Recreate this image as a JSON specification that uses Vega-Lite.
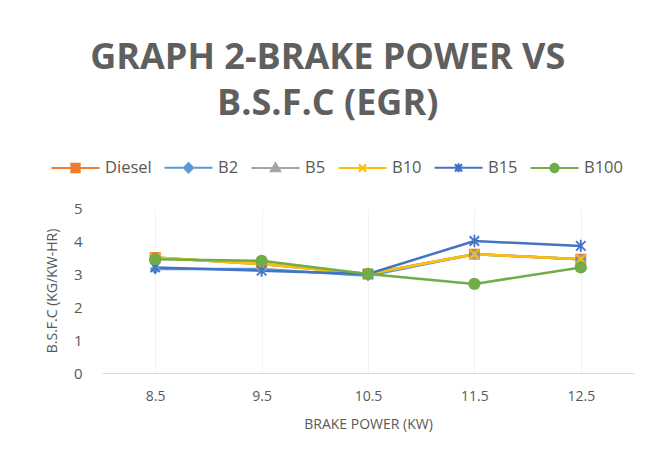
{
  "$schema": "https://vega.github.io/schema/vega-lite/v6.json",
  "width": 532,
  "height": 165,
  "padding": {"left": 45, "top": 40, "right": 19, "bottom": 10},
  "background": "white",
  "title": {
    "text": ["GRAPH 2-BRAKE POWER VS", "B.S.F.C (EGR)"],
    "font": "Open Sans",
    "fontSize": 36,
    "fontWeight": "bold",
    "color": "#5f5f5f",
    "lineHeight": 46,
    "anchor": "middle",
    "frame": "bounds",
    "dx": -12,
    "offset": 19
  },
  "config": {
    "view": {"stroke": null},
    "font": "Open Sans",
    "axis": {"labelColor": "#595959", "titleColor": "#595959", "labelFont": "Open Sans", "titleFont": "Open Sans", "titleFontWeight": "normal"}
  },
  "data": {
    "values": [
      {"bp": "8.5", "series": "Diesel", "bsfc": 3.5},
      {"bp": "9.5", "series": "Diesel", "bsfc": 3.3},
      {"bp": "10.5", "series": "Diesel", "bsfc": 3.0},
      {"bp": "11.5", "series": "Diesel", "bsfc": 3.6},
      {"bp": "12.5", "series": "Diesel", "bsfc": 3.45},
      {"bp": "8.5", "series": "B2", "bsfc": 3.15},
      {"bp": "9.5", "series": "B2", "bsfc": 3.15},
      {"bp": "10.5", "series": "B2", "bsfc": 2.95},
      {"bp": "11.5", "series": "B2", "bsfc": 3.6},
      {"bp": "12.5", "series": "B2", "bsfc": 3.45},
      {"bp": "8.5", "series": "B5", "bsfc": 3.5},
      {"bp": "9.5", "series": "B5", "bsfc": 3.3},
      {"bp": "10.5", "series": "B5", "bsfc": 3.0},
      {"bp": "11.5", "series": "B5", "bsfc": 3.6},
      {"bp": "12.5", "series": "B5", "bsfc": 3.45},
      {"bp": "8.5", "series": "B10", "bsfc": 3.5},
      {"bp": "9.5", "series": "B10", "bsfc": 3.3},
      {"bp": "10.5", "series": "B10", "bsfc": 3.0},
      {"bp": "11.5", "series": "B10", "bsfc": 3.6},
      {"bp": "12.5", "series": "B10", "bsfc": 3.45},
      {"bp": "8.5", "series": "B15", "bsfc": 3.2},
      {"bp": "9.5", "series": "B15", "bsfc": 3.1},
      {"bp": "10.5", "series": "B15", "bsfc": 3.0},
      {"bp": "11.5", "series": "B15", "bsfc": 4.0},
      {"bp": "12.5", "series": "B15", "bsfc": 3.85},
      {"bp": "8.5", "series": "B100", "bsfc": 3.45},
      {"bp": "9.5", "series": "B100", "bsfc": 3.4},
      {"bp": "10.5", "series": "B100", "bsfc": 3.0},
      {"bp": "11.5", "series": "B100", "bsfc": 2.7},
      {"bp": "12.5", "series": "B100", "bsfc": 3.2}
    ]
  },
  "encoding": {
    "x": {
      "field": "bp", "type": "ordinal", "sort": null,
      "scale": {"type": "point", "padding": 0.5},
      "axis": {
        "title": "BRAKE POWER (KW)", "titleFontSize": 14, "titlePadding": 14,
        "labelAngle": 0, "labelFontSize": 14, "labelPadding": 16,
        "ticks": false, "tickSize": 0,
        "domainColor": "#D9D9D9", "domainWidth": 1.2,
        "grid": true, "gridColor": "#F3F3F3"
      }
    },
    "y": {
      "field": "bsfc", "type": "quantitative",
      "scale": {"domain": [0, 5], "nice": false},
      "axis": {
        "title": "B.S.F.C (KG/KW-HR)", "titleFontSize": 14, "titlePadding": 14,
        "values": [0, 1, 2, 3, 4, 5], "labelFontSize": 15, "labelPadding": 20,
        "ticks": false, "tickSize": 0, "domain": false, "grid": false
      }
    },
    "color": {
      "field": "series", "type": "nominal", "sort": null,
      "scale": {
        "domain": ["Diesel", "B2", "B5", "B10", "B15", "B100"],
        "range": ["#ED7D31", "#5B9BD5", "#A5A5A5", "#FFC000", "#4472C4", "#70AD47"]
      },
      "legend": {
        "title": null, "orient": "none", "direction": "horizontal",
        "legendX": -52, "legendY": -66,
        "labelFontSize": 16.5, "labelColor": "#595959", "labelFont": "Open Sans",
        "labelOffset": 4, "columnPadding": 8,
        "symbolSize": 2304, "symbolStrokeWidth": 2.2, "symbolType": "stroke",
        "encode": {
          "symbols": {
            "update": {
              "shape": {"signal": "datum.value === 'Diesel' ? 'M-1,0H1M-0.17,-0.17H0.17V0.17H-0.17Z' : datum.value === 'B2' ? 'M-1,0H1M0,-0.19L0.19,0L0,0.19L-0.19,0Z' : datum.value === 'B5' ? 'M-1,0H1M0,-0.19L0.19,0.13L-0.19,0.13Z' : datum.value === 'B10' ? 'M-1,0H1M-0.15,-0.15L0.15,0.15M-0.15,0.15L0.15,-0.15' : datum.value === 'B15' ? 'M-1,0H1M-0.15,-0.15L0.15,0.15M-0.15,0.15L0.15,-0.15M0,-0.19V0.19' : 'M-1,0H1M-0.17,0A0.17,0.17 0 1,0 0.17,0A0.17,0.17 0 1,0 -0.17,0Z'"},
              "fill": {"scale": "color", "field": "value"},
              "stroke": {"scale": "color", "field": "value"},
              "opacity": {"value": 1}
            }
          }
        }
      }
    }
  },
  "layer": [
    {"mark": {"type": "line", "strokeWidth": 2.5}},
    {"transform": [{"filter": "datum.series === 'Diesel'"}], "mark": {"type": "point", "shape": "square", "filled": true, "opacity": 1, "size": 120}},
    {"transform": [{"filter": "datum.series === 'B2'"}], "mark": {"type": "point", "shape": "diamond", "filled": true, "opacity": 1, "size": 120}},
    {"transform": [{"filter": "datum.series === 'B5'"}], "mark": {"type": "point", "shape": "triangle-up", "filled": true, "opacity": 1, "size": 110}},
    {"transform": [{"filter": "datum.series === 'B10'"}], "mark": {"type": "point", "shape": "M-1,-1L1,1M-1,1L1,-1", "filled": false, "opacity": 1, "size": 80, "strokeWidth": 1.8}},
    {"transform": [{"filter": "datum.series === 'B15'"}], "mark": {"type": "point", "shape": "M-1,-1L1,1M-1,1L1,-1M0,-1.3V1.3", "filled": false, "opacity": 1, "size": 90, "strokeWidth": 1.8}},
    {"transform": [{"filter": "datum.series === 'B100'"}], "mark": {"type": "point", "shape": "circle", "filled": true, "opacity": 1, "size": 150}}
  ]
}
